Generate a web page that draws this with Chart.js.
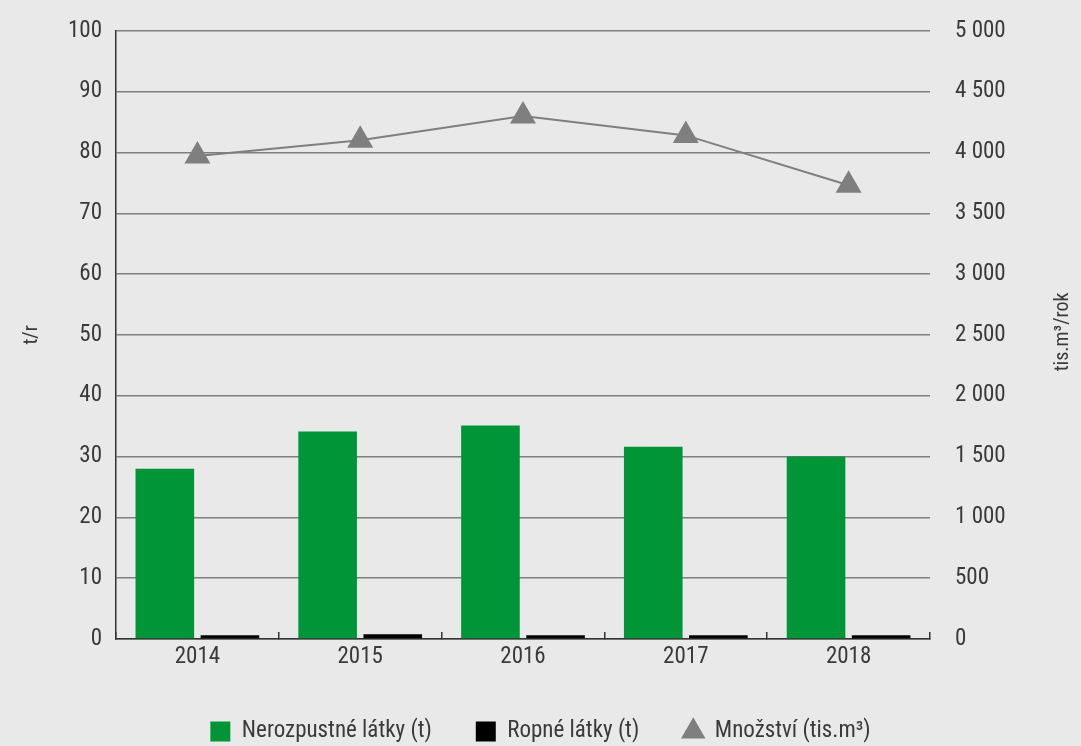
<!DOCTYPE html>
<html>
<head>
<meta charset="utf-8">
<script src="https://cdn.jsdelivr.net/npm/chart.js@4/dist/chart.umd.min.js"></script>
<style>
    html, body { margin: 0; padding: 0; background: #e9e9e9; }
    #wrap { width: 1081px; height: 746px; }
</style>
</head>
<body>
<div id="wrap"><canvas id="wasteChart" width="1081" height="746"></canvas></div>
<script>
// roky
var years = ['2014', '2015', '2016', '2017', '2018'];
// t/r, levá osa
var nerozpustne = [28.0, 34.1, 35.1, 31.6, 30.0];
var ropne = [0.6, 0.8, 0.6, 0.6, 0.6];
// tis. m3/rok, pravá osa
var mnozstvi = [3970, 4100, 4300, 4140, 3730];

var leftMax = 100, leftStep = 10;
var rightMax = 5000, rightStep = 500;
var rightTitle = 'tis.m³/rok';

var fontName = "'Roboto Condensed', 'Liberation Sans Narrow', 'Arial Narrow', Roboto, sans-serif";
var textColor = '#3a3a3a';

function spaced(v) {
    return String(v).replace(/\B(?=(\d{3})+(?!\d))/g, ' ');
}

// titulek pravé osy čtený zdola nahoru
var rightTitlePlugin = {
    id: 'rightTitle',
    afterDraw: function(chart) {
        var c = chart.ctx;
        var area = chart.chartArea;
        c.save();
        c.translate(1063, (area.top + area.bottom) / 2 - 3);
        c.rotate(-Math.PI / 2);
        c.font = '20px ' + fontName;
        c.fillStyle = textColor;
        c.textAlign = 'center';
        c.textBaseline = 'middle';
        c.fillText(rightTitle, 0, 0);
        c.restore();
    }
};

document.addEventListener('DOMContentLoaded', function() {
    var ctx = document.getElementById('wasteChart').getContext('2d');

    Chart.defaults.font.family = fontName;
    Chart.defaults.font.size = 23;
    Chart.defaults.color = textColor;

    var wasteChart = new Chart(ctx, {
        type: 'bar',
        data: {
            labels: years,
            datasets: [{
                label: 'Nerozpustné látky (t)',
                data: nerozpustne,
                backgroundColor: '#009536',
                pointStyle: 'rect',
                yAxisID: 'y',
                categoryPercentage: 0.8,
                barPercentage: 0.9,
                order: 2
            },
                {
                    label: 'Ropné látky (t)',
                    data: ropne,
                    backgroundColor: '#000000',
                    pointStyle: 'rect',
                    yAxisID: 'y',
                    categoryPercentage: 0.8,
                    barPercentage: 0.9,
                    order: 3
                },
                {
                    type: 'line',
                    label: 'Množství (tis.m³)',
                    data: mnozstvi,
                    borderColor: '#7f7f7f',
                    borderWidth: 2,
                    backgroundColor: '#7f7f7f',
                    pointStyle: 'triangle',
                    pointRadius: 15,
                    pointBorderWidth: 0,
                    pointBackgroundColor: '#7f7f7f',
                    tension: 0,
                    yAxisID: 'y1',
                    order: 1
                }]
        },
        options: {
            responsive: false,
            animation: false,
            layout: { padding: { top: 16, right: 0, bottom: -7, left: 0 } },
            scales: {
                x: {
                    grid: {
                        offset: true,
                        drawOnChartArea: false,
                        drawTicks: true,
                        tickLength: -7,
                        color: '#333333',
                        lineWidth: 1.5
                    },
                    border: { color: '#333333', width: 1.5 },
                    ticks: { padding: 11 },
                    afterFit: function(scale) { scale.height = 37; }
                },
                y: {
                    position: 'left',
                    min: 0,
                    max: leftMax,
                    ticks: { stepSize: leftStep, padding: 14 },
                    grid: { color: '#7f7f7f', lineWidth: 1.5, drawTicks: false },
                    border: { color: '#333333', width: 1.5 },
                    title: {
                        display: true,
                        text: 't/r',
                        font: { size: 20 },
                        padding: { top: 20, bottom: 0 }
                    },
                    afterFit: function(scale) { scale.width = 116; }
                },
                y1: {
                    position: 'right',
                    min: 0,
                    max: rightMax,
                    ticks: {
                        stepSize: rightStep,
                        padding: 17,
                        callback: function(value) { return spaced(value); }
                    },
                    grid: { display: false },
                    border: { display: false },
                    afterFit: function(scale) { scale.width = 151; }
                }
            },
            plugins: {
                legend: {
                    position: 'bottom',
                    labels: {
                        usePointStyle: true,
                        boxWidth: 20,
                        boxHeight: 20,
                        padding: 44,
                        color: textColor,
                        sort: function(a, b) { return a.datasetIndex - b.datasetIndex; }
                    }
                },
                tooltip: { enabled: false }
            }
        },
        plugins: [rightTitlePlugin]
    });
});
</script>
</body>
</html>
